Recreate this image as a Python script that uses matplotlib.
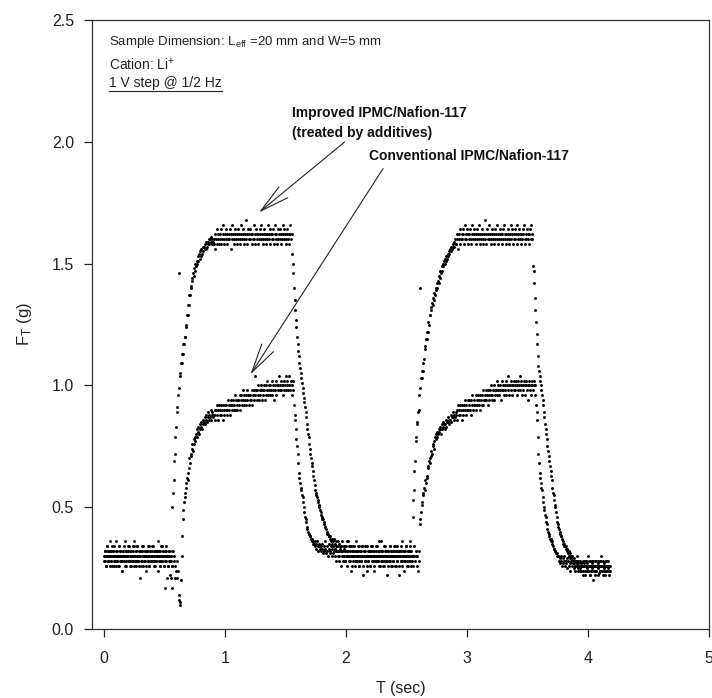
import numpy as np
import matplotlib
matplotlib.use('Agg')
import matplotlib.pyplot as plt
from matplotlib.lines import Line2D

plt.rcParams['font.family'] = ['Liberation Sans', 'DejaVu Sans']
plt.rcParams['mathtext.fontset'] = 'custom'
plt.rcParams['mathtext.rm'] = 'Liberation Sans'
plt.rcParams['mathtext.it'] = 'Liberation Sans:italic'
plt.rcParams['mathtext.bf'] = 'Liberation Sans:bold'

# ---------------- data: force in units of 0.01 g, one sample every DT seconds -------------
DT = 0.005

# Improved IPMC/Nafion-117 (treated by additives)
improved_base1_t0 = 0.0
improved_base1 = [30,28,32,26,30,34,28,32,30,26, 32,30,28,34,30,32,26,30,28,36,
                  30,32,28,26,30,34,32,28,30,24, 28,32,30,34,26,30,32,28,30,32,
                  34,28,30,26,32,30,28,34,30,36, 26,30,32,28,30,34,28,30,26,32,
                  30,28,32,34,30,26,28,32,30,30, 24,32,28,30,34,26,32,30,28,32,
                  30,34,28,26,32,30,28,30,32,36, 28,30,26,32,30,34,28,32,30,26,
                  32,28,30,34,30,26,30,32,28,22, 30,28,32,26]
improved_rise1_t0 = 0.565
improved_rise1 = [50,56,61,69,72,79,83,89,91,96, 146,99,104,105,109,109,113,113,117,117,
                  120,120,125,124,129,129,133,133,137,137, 141,140,144,143,146,145,148,147,150,149,
                  151,150,153,151,154,152,155,153,156,154, 157,155,157,156,158,156,159,157,159,158,
                  160,158,160,159,161,158,160,159]
improved_plat1_t0 = 0.905
improved_plat1 = [160,158,162,156,160,164,158,162,160,158, 162,160,164,158,160,162,166,160,158,162,
                  160,164,162,158,160,162,160,164,156,162, 160,166,162,158,160,164,162,160,158,162,
                  164,160,162,160,158,166,162,160,164,162, 158,160,162,168,160,162,158,164,160,162,
                  160,164,162,158,162,160,166,160,162,158, 164,162,160,162,158,160,164,162,160,166,
                  162,160,158,162,164,160,162,158,160,162, 166,160,162,164,158,162,160,162,164,160,
                  158,162,166,160,162,158,164,160,162,160, 164,162,158,160,166,162,160,164,162,158,
                  160,162,164,160,162,158,166,162,160,162, 154]
improved_fall1_t0 = 1.56
improved_fall1 = [150,146,140,135,131,127,124,120,117,114, 112,109,107,105,103,101,99,97,95,93,
                  91,89,87,84,82,80,79,76,74,72, 70,68,67,65,63,61,59,57,56,55,
                  54,53,52,51,50,49,48,47,46,45, 45,44,43,42,42,41,40,39,39,38,
                  38,37,38,36,37,35,36,34,37,33, 35,34,36,32,34,36,35,32,33,34]
improved_base2_t0 = 1.96
improved_base2 = [34,32,36,30,33,34,32,28,34,30, 32,36,30,34,28,32,34,30,26,32,
                  30,34,28,32,30,36,28,30,32,26, 34,30,32,28,30,34,26,32,30,28,
                  32,30,24,34,30,28,32,30,26,32, 30,34,28,30,32,26,30,28,34,30,
                  32,28,30,36,26,32,30,28,32,30, 34,26,30,32,28,30,22,32,30,28,
                  34,30,26,32,30,28,32,34,30,26, 30,32,28,34,30,26,32,30,28,32,
                  36,28,30,24,32,30,28,34,30,26, 32,30,28,32,34,30,26,30]
improved_rise2_t0 = 2.55
improved_rise2 = [46,53,57,65,69,77,79,84,85,89, 90,96,140,99,103,103,106,106,109,111,
                  116,115,119,119,122,122,126,125,129,129, 132,131,134,133,136,135,138,137,140,139,
                  142,140,143,142,145,144,147,146,149,147, 150,149,151,150,152,151,153,152,154,153,
                  155,154,156,155,157,156,158,157,159,157, 160,158]
improved_plat2_t0 = 2.91
improved_plat2 = [158,162,160,156,162,160,164,158,160,162, 160,164,162,158,160,166,162,160,164,158,
                  162,160,162,164,160,158,166,162,160,162, 164,160,158,162,160,164,162,166,160,158,
                  162,160,164,162,158,160,162,168,160,162, 158,164,160,162,160,166,162,158,160,164,
                  162,160,158,162,164,160,162,166,160,162, 158,160,164,162,160,158,162,164,160,166,
                  162,160,158,162,160,164,162,158,160,162, 166,160,164,162,158,160,162,164,160,162,
                  158,166,162,160,164,162,160,158,162,160, 164,162,166,160,158,162,160,164,162,160,
                  158,162,164,160,166,162,160]
improved_fall2_t0 = 3.545
improved_fall2 = [149,147,142,136,131,126,121,117,112,108, 106,104,102,100,98,96,94,92,89,87,
                  84,82,80,78,75,73,71,69,67,65, 63,61,58,56,55,53,51,50,48,46,
                  44,43,42,41,40,39,38,38,37,36, 35,35,34,34,33,34,32,33,31,32,
                  30,31,29,30,28,30,28,29,27,28, 26,28,27,27,25,28,26,26,24,27,
                  26,26]
improved_base3_t0 = 3.955
improved_base3 = [26,24,28,26,22,26,28,24,26,30, 24,26,28,22,26,24,28,26,20,26,
                  24,28,26,24,26,28,22,26,24,28, 26,30,24,26,28,24,26,22,26,28,
                  24,26,28,24,26,26]

# Conventional IPMC/Nafion-117
conv_base1_t0 = 0.0
conv_base1 = [28,32,30,26,34,30,28,32,30,36, 30,28,32,26,30,32,34,28,30,26,
              32,30,28,30,34,26,30,32,28,30, 24,30,32,28,36,30,26,32,30,28,
              30,34,28,32,30,26,30,28,32,34, 30,28,26,32,30,34,28,30,32,21,
              30,26,32,28,30,34,30,28,32,26, 30,32,28,34,30,26,32,30,28,30,
              34,28,32,30,26,30,28,32,30,24, 30,32,28,26,34,30,28,32,30,26,
              17,30,28,32,21,30,26,30,32,28, 21,30,26,17,32,28,30,26,21,24,
              28,21,24]
conv_rise1_t0 = 0.615
conv_rise1 = [14,12,10,11,20,30,38,45,49,52, 54,56,60,58,62,64,61,66,70,68,
              72,71,74,76,73,78,76,79,77,80, 82,79,81,83,80,84,82,85,83,82,
              86,84,85,87,84,86,88,85,87,89, 86,88,87,90,86,88,89,87,88]
conv_plat1_t0 = 0.91
conv_plat1 = [88,90,86,90,92,88,90,86,92,88, 90,88,92,90,86,92,90,88,92,90,
              92,90,88,94,90,92,88,92,94,90, 92,94,90,92,96,90,94,92,90,94,
              94,92,96,90,94,96,92,94,98,92, 96,94,92,96,98,94,96,92,96,94,
              96,94,98,92,96,98,94,104,96,98, 94,98,96,100,94,98,96,100,98,94,
              98,96,100,98,94,100,96,98,102,96, 98,100,96,100,98,102,96,98,100,94,
              100,98,102,96,100,98,100,104,98,100, 98,102,100,96,100,102,98,100,104,98,
              100,102,98,100,104,98,100,102,96,100, 98,102]
conv_fall1_t0 = 1.57
conv_fall1 = [92,88,86,82,78,75,72,68,64,62, 60,58,57,55,54,52,50,48,46,45,
              44,42,41,40,39,39,38,38,37,36, 37,35,36,35]
conv_base2_t0 = 1.74
conv_base2 = [36,34,35,33,36,34,32,35,34,33, 34,32,35,33,31,34,32,36,33,31,
              34,32,30,33,35,31,32,34,30,33, 31,34,32,30,33,28,32,34,30,32,
              28,30,34,32,26,30,32,28,34,30, 32,28,30,36,26,32,30,28,34,30,
              24,32,30,28,34,30,26,32,30,28, 32,30,34,28,26,32,30,28,30,34,
              22,30,32,28,34,30,26,30,32,28, 30,32,26,30,34,28,30,32,30,24,
              28,32,30,34,28,30,26,32,30,36, 28,30,32,26,30,28,34,30,32,28,
              30,26,32,30,28,34,30,32,26,30, 28,32,30,34,26,30,28,32,30,22,
              32,30,28,34,30,26,32,30,28,32, 30,34,28,30,26,32,30,28,36,30,
              32,28,30,26,34,30,28,32,30,26, 30,24,32,28]
conv_rise2_t0 = 2.61
conv_rise2 = [43,45,48,51,52,56,55,58,57,61, 60,63,62,66,67,69,70,68,71,73,
              72,75,76,74,77,79,78,80,79,81, 80,82,81,83,82,80,82,84,83,85,
              84,82,84,86,83,85,85,87,84,86, 86,88,85,87,87,89,86,88,87,89]
conv_plat2_t0 = 2.91
conv_plat2 = [88,90,86,92,88,90,92,88,90,86, 92,90,88,92,94,90,88,92,90,94,
              90,92,94,90,88,94,92,96,90,92, 94,92,90,96,92,94,96,92,94,90,
              96,94,92,96,98,92,94,96,94,98, 94,96,98,92,96,94,98,96,100,94,
              96,98,94,100,98,96,98,102,96,98, 100,96,98,100,94,98,102,98,100,96,
              98,100,102,96,100,98,104,100,96,100, 102,98,100,96,100,102,98,100,98,102,
              100,96,102,98,100,104,98,100,102,96, 100,98,102,100,96,100,102,98,100,94,
              100,102,98,100,96,102,100,98,102,100, 96,100]
conv_fall2_t0 = 3.57
conv_fall2 = [92,89,86,79,72,68,64,62,60,58, 57,54,52,50,49,47,46,44,43,41,
              40,39,38,37,37,36,36,35,34,33, 33,32,32,31,31,30,30]
conv_base3_t0 = 3.755
conv_base3 = [30,28,29,27,30,28,26,29,27,28, 30,26,28,27,29,25,28,26,30,27,
              24,28,26,29,27,25,28,26,24,28, 26,30,24,27,26,28,25,27,24,26,
              28,22,26,27,24,28,26,25,27,24, 26,28,22,26,24,27,25,28,26,24,
              22,26,28,24,26,25,27,23,26,24, 28,26,24,22,26,25,27,24,26,28,
              24,26,25,22,26,24]

improved_segments = [(improved_base1_t0, improved_base1), (improved_rise1_t0, improved_rise1),
                     (improved_plat1_t0, improved_plat1), (improved_fall1_t0, improved_fall1),
                     (improved_base2_t0, improved_base2), (improved_rise2_t0, improved_rise2),
                     (improved_plat2_t0, improved_plat2), (improved_fall2_t0, improved_fall2),
                     (improved_base3_t0, improved_base3)]
conv_segments = [(conv_base1_t0, conv_base1), (conv_rise1_t0, conv_rise1),
                 (conv_plat1_t0, conv_plat1), (conv_fall1_t0, conv_fall1),
                 (conv_base2_t0, conv_base2), (conv_rise2_t0, conv_rise2),
                 (conv_plat2_t0, conv_plat2), (conv_fall2_t0, conv_fall2),
                 (conv_base3_t0, conv_base3)]


def series(segments):
    ts, ys = [], []
    for t0, vals in segments:
        ts.append(t0 + DT * np.arange(len(vals)))
        ys.append(np.asarray(vals, dtype=float) / 100.0)
    return np.concatenate(ts), np.concatenate(ys)


t_imp, f_imp = series(improved_segments)
t_con, f_con = series(conv_segments)

x_ticks = [0, 1, 2, 3, 4, 5]
y_ticks = [0.0, 0.5, 1.0, 1.5, 2.0, 2.5]

# ---------------- figure -------------
fig = plt.figure(figsize=(7.12, 6.98), dpi=100)
ax = fig.add_axes([92 / 712, 1 - 629 / 698, (709 - 92) / 712, (629 - 20) / 698])

ax.plot(t_con, f_con, linestyle='none', marker='o', ms=2.1, mew=0, color='black')
ax.plot(t_imp, f_imp, linestyle='none', marker='o', ms=2.1, mew=0, color='black')

ax.set_xlim(-0.1, 5.0)
ax.set_ylim(0.0, 2.5)
ax.set_xticks(x_ticks)
ax.set_xticklabels([str(v) for v in x_ticks])
ax.set_yticks(y_ticks)
ax.set_yticklabels([f'{v:.1f}' for v in y_ticks])
ax.tick_params(axis='both', direction='out', length=6, width=0.9, labelsize=11.5,
               colors='#222222', pad=7)
ax.tick_params(axis='x', pad=10)
for s in ax.spines.values():
    s.set_linewidth(0.9)
    s.set_color('#333333')

ax.set_xlabel('T (sec)', fontsize=11.5, labelpad=11, color='#222222')
ax.set_ylabel('F$_\\mathrm{T}$ (g)', fontsize=12, labelpad=13, color='#222222')

ax.text(0.04, 2.41, 'Sample Dimension: L$_\\mathrm{eff}$ =20 mm and W=5 mm',
        fontsize=9.5, va='center', ha='left', color='#222222')
ax.text(0.04, 2.315, 'Cation: Li$^{+}$', fontsize=10, va='center', ha='left', color='#222222')
step_txt = ax.text(0.04, 2.24, '1 V step @ 1/2 Hz', fontsize=10, va='center', ha='left',
                   color='#222222')

ax.text(1.554, 2.118, 'Improved IPMC/Nafion-117', fontsize=10, fontweight='bold',
        va='center', ha='left', color='#111111')
ax.text(1.554, 2.036, '(treated by additives)', fontsize=10, fontweight='bold',
        va='center', ha='left', color='#111111')
ax.text(2.19, 1.94, 'Conventional IPMC/Nafion-117', fontsize=10, fontweight='bold',
        va='center', ha='left', color='#111111')

arrow_style = dict(arrowstyle='->,head_length=2.1,head_width=0.5', lw=0.8, color='#222222',
                   mutation_scale=10, shrinkA=0, shrinkB=0)
ax.annotate('', xy=(1.28, 1.71), xytext=(1.99, 2.0), arrowprops=arrow_style)
ax.annotate('', xy=(1.21, 1.045), xytext=(2.306, 1.89), arrowprops=arrow_style)

# underline for the step text
fig.canvas.draw()
bb = step_txt.get_window_extent(fig.canvas.get_renderer())
W, H = fig.get_size_inches() * fig.dpi
yline = (bb.y0 - 1) / H
fig.add_artist(Line2D([bb.x0 / W, bb.x1 / W], [yline, yline], lw=0.8, color='#222222'))

fig.savefig('out.png', dpi=100)
